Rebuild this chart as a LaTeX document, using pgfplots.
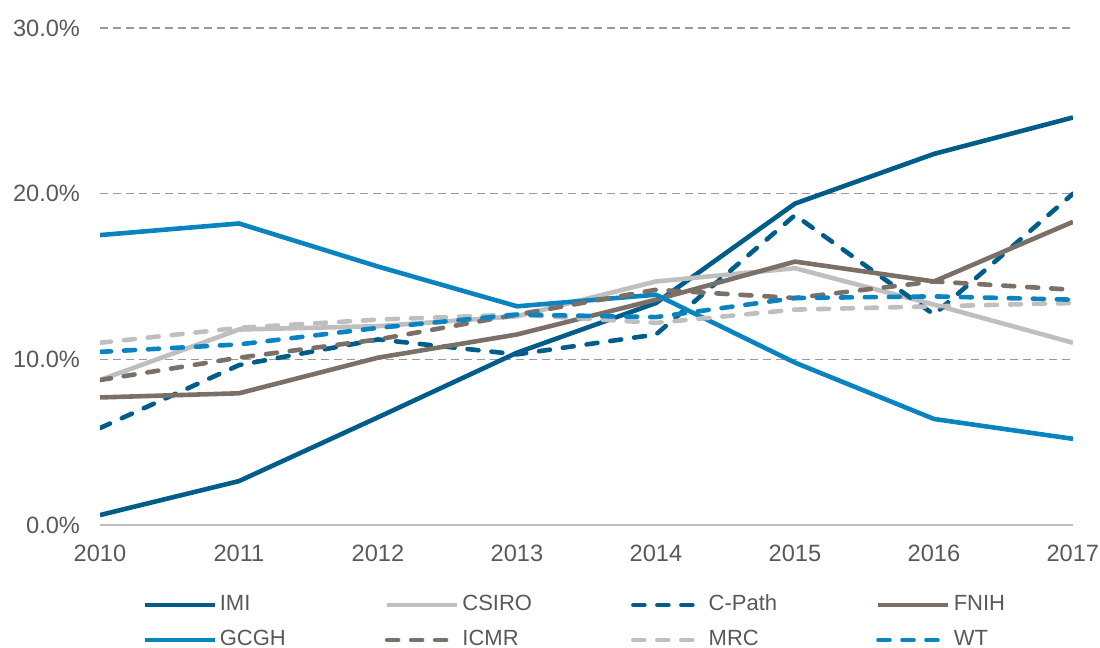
\documentclass[border=0pt]{standalone}
\usepackage{pgfplots}
\pgfplotsset{compat=1.18}
\usepackage{fontspec}
\setmainfont{Liberation Sans}

\definecolor{navy}{HTML}{005D89}
\definecolor{sky}{HTML}{0A84C1}
\definecolor{taupe}{HTML}{7A7067}
\definecolor{lgray}{HTML}{BFBFBF}
\definecolor{txt}{HTML}{595959}

\begin{document}
\begin{tikzpicture}
  \begin{axis}[
    scale only axis,
    width=486.5pt, height=248.5pt,
    xmin=2010, xmax=2017,
    ymin=0, ymax=30,
    xtick={2010,...,2017},
    ytick={0,10,20,30},
    x tick label style={/pgf/number format/1000 sep=},
    yticklabel={\pgfmathprintnumber[fixed,fixed zerofill,precision=1]{\tick}\%},
    /pgf/number format/assume math mode=true,
    tick label style={font=\fontsize{11.8}{13}\selectfont, text=txt},
    major tick length=0pt,
    axis x line*=bottom, axis y line*=left,
    x axis line style={draw=lgray, line width=0.8pt},
    y axis line style={draw=none},
    ymajorgrids,
    grid style={gray!80, line width=0.6pt, dash pattern=on 4pt off 2.5pt},
    xticklabel shift=6.5pt, yticklabel shift=6.5pt,
    every axis plot/.append style={line width=2.3pt, line join=round},
    legend columns=4,
    legend style={draw=none, inner sep=0pt, at={(0.043,-0.137)}, anchor=north west,
      font=\fontsize{11}{12}\selectfont, text=txt,
      nodes={inner sep=1pt, text height=7.5pt, text depth=2pt},
      row sep=6pt,
      /tikz/every odd column/.append style={column sep=0.5pt},
      /tikz/every even column/.append style={column sep=48.5pt}},
    legend cell align=left,
    legend image code/.code={\draw[#1] (0pt,0pt) -- (35pt,0pt);},
    dashy/.style={dash pattern=on 5.5pt off 6.5pt, line cap=round},
  ]
    \addplot[navy] coordinates {(2010,0.6) (2011,2.65) (2012,6.5) (2013,10.4) (2014,13.4) (2015,19.4) (2016,22.4) (2017,24.6)};
    \addlegendentry{IMI}
    \addplot[lgray] coordinates {(2010,8.75) (2011,11.8) (2012,12.0) (2013,12.6) (2014,14.7) (2015,15.5) (2016,13.3) (2017,11.0)};
    \addlegendentry{CSIRO}
    \addplot[navy, dashy] coordinates {(2010,5.85) (2011,9.65) (2012,11.2) (2013,10.3) (2014,11.5) (2015,18.7) (2016,12.7) (2017,20.0)};
    \addlegendentry{C-Path}
    \addplot[taupe] coordinates {(2010,7.7) (2011,7.95) (2012,10.1) (2013,11.5) (2014,13.6) (2015,15.9) (2016,14.7) (2017,18.3)};
    \addlegendentry{FNIH}
    \addplot[sky] coordinates {(2010,17.5) (2011,18.2) (2012,15.6) (2013,13.2) (2014,13.9) (2015,9.8) (2016,6.4) (2017,5.2)};
    \addlegendentry{GCGH}
    \addplot[taupe, dashy] coordinates {(2010,8.75) (2011,10.1) (2012,11.2) (2013,12.7) (2014,14.2) (2015,13.7) (2016,14.7) (2017,14.2)};
    \addlegendentry{ICMR}
    \addplot[lgray, dashy] coordinates {(2010,11.0) (2011,11.9) (2012,12.4) (2013,12.7) (2014,12.2) (2015,13.0) (2016,13.2) (2017,13.4)};
    \addlegendentry{MRC}
    \addplot[sky, dashy] coordinates {(2010,10.45) (2011,10.9) (2012,11.9) (2013,12.7) (2014,12.55) (2015,13.7) (2016,13.8) (2017,13.6)};
    \addlegendentry{WT}
  \end{axis}
  \pgfresetboundingbox
  \useasboundingbox (-50pt,-61.5pt) rectangle (500pt,262.5pt);
\end{tikzpicture}
\end{document}
